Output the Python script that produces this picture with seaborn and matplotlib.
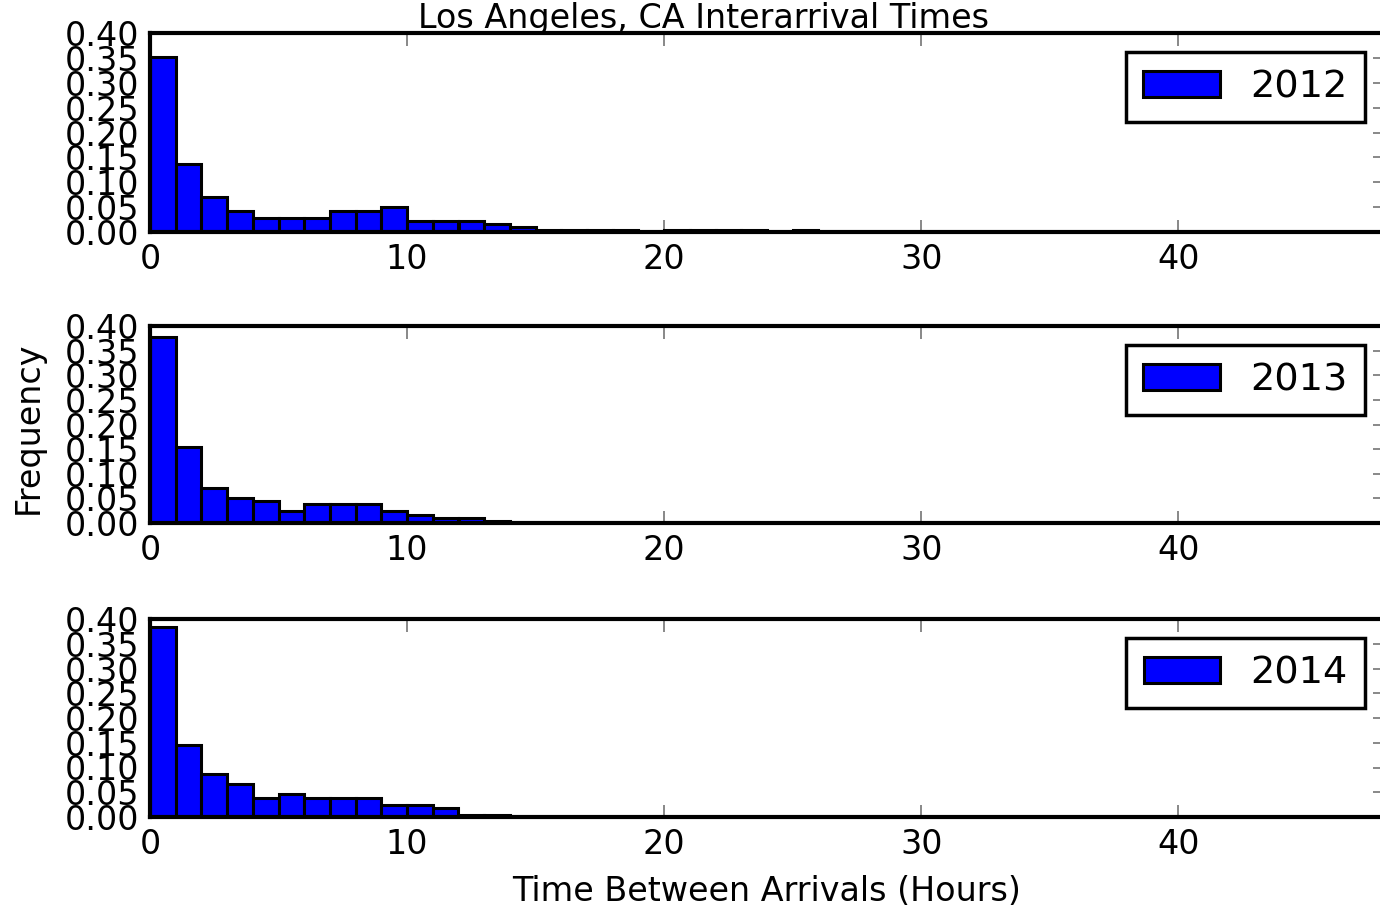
import numpy as np
import pandas as pd
import seaborn as sns
import matplotlib.pyplot as plt

sns.set_style("ticks", {'text.color': 'black', 'xtick.color': 'black', 'ytick.color': 'black'})
plt.rcParams['font.family'] = ['DejaVu Sans']

# Histogram bin heights (1-hour bins from 0 to 48 hours)
edges = np.arange(0, 49)
years = ["2012", "2013", "2014"]
freq_2012 = [0.352, 0.137, 0.070, 0.043, 0.028, 0.028, 0.028, 0.043, 0.043, 0.050,
             0.023, 0.023, 0.023, 0.017, 0.011, 0.005, 0.005, 0.005, 0.005, 0.0,
             0.005, 0.005, 0.005, 0.005, 0.0, 0.005]
freq_2013 = [0.377, 0.154, 0.072, 0.051, 0.045, 0.025, 0.038, 0.038, 0.038, 0.025,
             0.017, 0.011, 0.011, 0.005]
freq_2014 = [0.383, 0.146, 0.086, 0.066, 0.039, 0.046, 0.039, 0.039, 0.039, 0.025,
             0.025, 0.019, 0.005, 0.005]
all_freq = [freq_2012, freq_2013, freq_2014]

W, H = 1380, 911
fig = plt.figure(figsize=(W / 100, H / 100), dpi=100)
fig.patch.set_facecolor('white')

# axes boxes in pixels: (top, bottom)
boxes = [(33, 232), (326, 523), (619, 817)]
left_px, right_px = 150, 1384

fs = 24
tick_col = (0, 0, 0, 0.5)
axes = []
for (top, bot), year, freq in zip(boxes, years, all_freq):
    ax = fig.add_axes([left_px / W, 1 - bot / H, (right_px - left_px) / W, (bot - top) / H])
    df = pd.DataFrame({'hours': edges[:len(freq)] + 0.5, 'freq': freq})
    sns.histplot(data=df, x='hours', weights='freq', bins=list(edges), ax=ax,
                 color='#0000ff', edgecolor='black', linewidth=2.2, alpha=1, label=year)
    for p in list(ax.patches):
        if p.get_height() == 0:
            p.remove()
    ax.set_xlim(0, 48)
    ax.set_ylim(0, 0.40)
    ax.set_xticks([0, 10, 20, 30, 40])
    ax.set_yticks(np.arange(0, 0.401, 0.05))
    ax.set_yticklabels([f"{v:.2f}" for v in np.arange(0, 0.401, 0.05)])
    ax.set_xlabel('')
    ax.set_ylabel('')
    for s in ax.spines.values():
        s.set_linewidth(3)
        s.set_color('black')
        s.set_visible(True)
    ax.tick_params(axis='x', direction='in', top=True, bottom=True, length=9,
                   width=1.3, color=tick_col, labelcolor='black', labelsize=fs, pad=8)
    ax.tick_params(axis='y', direction='in', left=True, right=True, length=8,
                   width=1.3, color=tick_col, labelcolor='black', labelsize=fs, pad=8)
    for t in ax.get_xticklines() + ax.get_yticklines():
        t.set_zorder(5)
    leg = ax.legend(loc='upper right', fontsize=27.5, fancybox=False, framealpha=1,
                    edgecolor='black', handlelength=2, handleheight=0.7,
                    borderpad=0.45, handletextpad=0.8, borderaxespad=0.5)
    leg.get_frame().set_linewidth(2.5)
    for txt in leg.get_texts():
        txt.set_color('black')
    axes.append(ax)

axes[-1].set_xlabel('Time Between Arrivals (Hours)', fontsize=fs, labelpad=10, color='black')
fig.text(28 / W, 1 - 428 / H, 'Frequency', rotation=90, ha='center', va='center',
         fontsize=fs, color='black')
fig.text(704 / W, 1 - 2 / H, 'Los Angeles, CA Interarrival Times', ha='center', va='top',
         fontsize=fs, color='black')

plt.savefig('out.png', dpi=100, facecolor='white')
